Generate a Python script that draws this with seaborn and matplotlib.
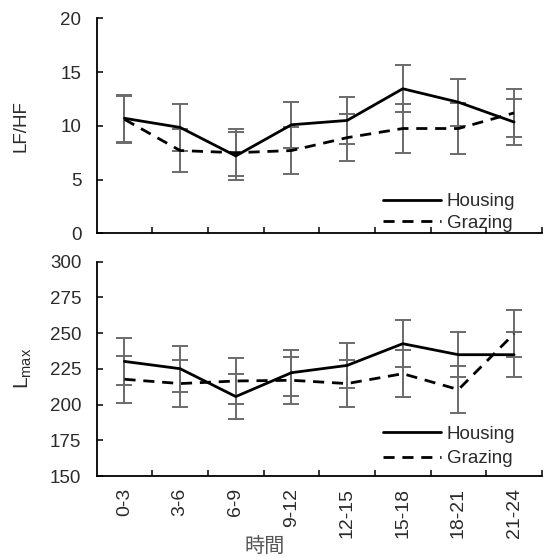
import numpy as np
import pandas as pd
import matplotlib
matplotlib.use("Agg")
import matplotlib.pyplot as plt
import seaborn as sns

# ---------------- data ----------------
times = ["0-3", "3-6", "6-9", "9-12", "12-15", "15-18", "18-21", "21-24"]
groups = ["Housing", "Grazing"]

lfhf_housing = [10.7, 9.85, 7.2, 10.1, 10.5, 13.45, 12.2, 10.35]
lfhf_housing_err = [2.2, 2.15, 2.2, 2.15, 2.15, 2.2, 2.2, 2.1]
lfhf_grazing = [10.6, 7.7, 7.5, 7.7, 8.9, 9.75, 9.75, 11.2]
lfhf_grazing_err = [2.2, 2.0, 2.2, 2.2, 2.2, 2.3, 2.35, 2.2]

lmax_housing = [230.2, 225.1, 205.6, 222.3, 227.4, 242.6, 234.9, 234.9]
lmax_housing_err = [16.2, 16.0, 16.0, 16.2, 15.7, 16.4, 15.8, 15.9]
lmax_grazing = [217.7, 214.7, 216.5, 217.0, 214.7, 221.6, 210.5, 249.6]
lmax_grazing_err = [16.3, 16.5, 16.2, 16.3, 16.2, 16.5, 16.2, 16.3]

lfhf_ticks = [0, 5, 10, 15, 20]
lmax_ticks = [150, 175, 200, 225, 250, 275, 300]

# ---------------- style ----------------
sns.set_style("ticks")
plt.rcParams["font.family"] = ["Liberation Sans", "DejaVu Sans"]
plt.rcParams["mathtext.fontset"] = "custom"
plt.rcParams["mathtext.rm"] = "Liberation Sans"
plt.rcParams["mathtext.it"] = "Liberation Sans"

TXT = "#2b2b2b"
ERR = "#6a6a6a"
FS = 13.5

fig = plt.figure(figsize=(5.43, 5.57), dpi=100)
ax1 = fig.add_axes([0.178, 0.5811, 0.820, 0.3860])
ax2 = fig.add_axes([0.178, 0.1454, 0.820, 0.3848])


def make_df(h, g):
    return pd.DataFrame({
        "time": times * 2,
        "value": list(h) + list(g),
        "group": ["Housing"] * len(times) + ["Grazing"] * len(times),
    })


def draw(ax, h, he, g, ge, ticks, ylim, leg_anchor, lspace):
    df = make_df(h, g)
    for vals, errs in ((h, he), (g, ge)):
        ax.errorbar(times, vals, yerr=errs, fmt="none", ecolor=ERR,
                    elinewidth=1.4, capsize=6, capthick=1.4, zorder=2)
    sns.lineplot(data=df, x="time", y="value", hue="group", style="group",
                 hue_order=groups, style_order=groups,
                 palette={"Housing": "black", "Grazing": "black"},
                 dashes={"Housing": "", "Grazing": (4.0, 2.8)},
                 linewidth=2.0, sort=False, errorbar=None, ax=ax, zorder=3)
    ax.set_xlim(-0.5, 7.5)
    ax.set_ylim(*ylim)
    ax.set_yticks(ticks)
    ax.set_xticks(np.arange(0.5, 8, 1), minor=True)
    ax.tick_params(axis="y", direction="in", length=4, width=1.1,
                   labelsize=FS, labelcolor=TXT, pad=11, color="black")
    ax.tick_params(axis="x", which="major", length=0, labelsize=FS + 0.5,
                   labelcolor=TXT, pad=8.5)
    ax.tick_params(axis="x", which="minor", direction="in", length=4,
                   width=1.1, color="black")
    for s in ("top", "right"):
        ax.spines[s].set_visible(False)
    for s in ("left", "bottom"):
        ax.spines[s].set_linewidth(1.3)
        ax.spines[s].set_color("black")
    ax.set_xlabel("")
    sns.move_legend(ax, loc="upper left", bbox_to_anchor=leg_anchor,
                    title=None, frameon=False, fontsize=FS,
                    handlelength=3.1, handletextpad=0.3,
                    labelspacing=lspace, borderpad=0, borderaxespad=0)
    for t in ax.get_legend().get_texts():
        t.set_color(TXT)


draw(ax1, lfhf_housing, lfhf_housing_err, lfhf_grazing, lfhf_grazing_err,
     lfhf_ticks, (0, 20), (0.643, 0.187), 0.25)
draw(ax2, lmax_housing, lmax_housing_err, lmax_grazing, lmax_grazing_err,
     lmax_ticks, (150, 300), (0.643, 0.234), 0.38)

ax1.tick_params(axis="x", which="major", labelbottom=False)
for lab in ax2.get_xticklabels():
    lab.set_rotation(90)
    lab.set_va("top")
    lab.set_ha("center")

ax1.set_ylabel("LF/HF", fontsize=FS, color=TXT)
ax2.set_ylabel("L$_{\\mathrm{max}}$", fontsize=FS + 1.5, color=TXT)
ax1.yaxis.set_label_coords(-0.151, 0.5)
ax2.yaxis.set_label_coords(-0.141, 0.5)

fig.text(265 / 543, 1 - 546 / 557, "時間", ha="center", va="center",
         fontsize=14.5, color="#555555",
         family=["Noto Sans CJK JP", "DejaVu Sans"])

fig.savefig("out.png", dpi=100)
